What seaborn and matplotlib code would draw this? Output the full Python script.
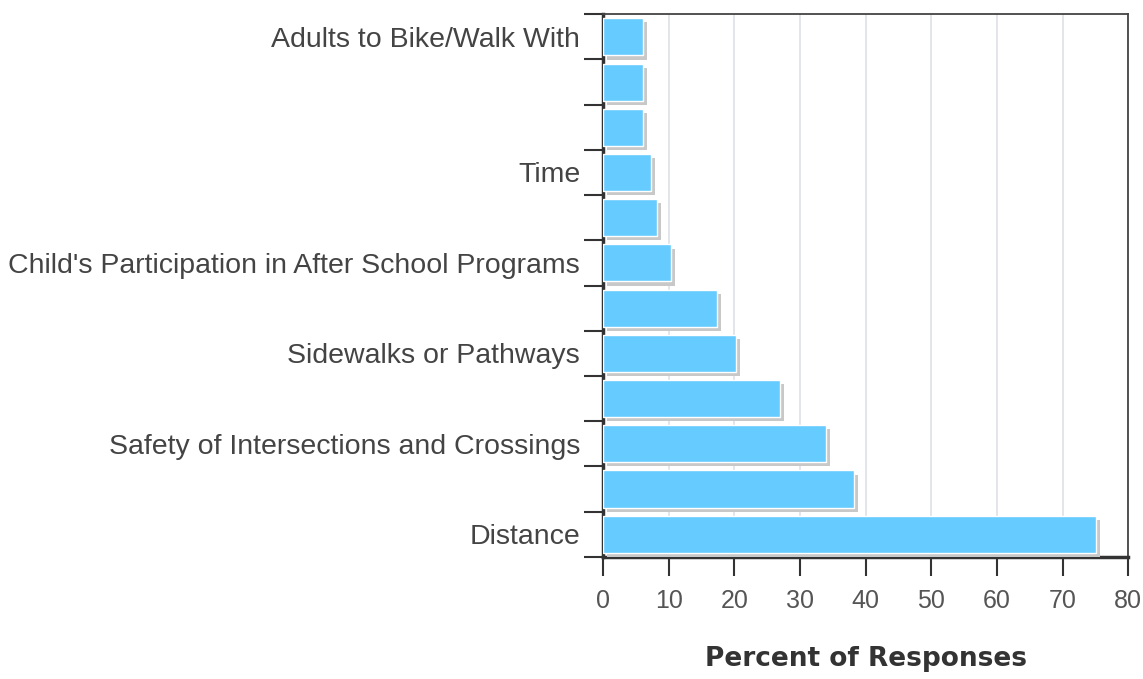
import numpy as np
import pandas as pd
import seaborn as sns
import matplotlib.pyplot as plt
import matplotlib.patheffects as pe
from matplotlib.ticker import FixedLocator

# categories from top to bottom; blank ones were not labelled in the source chart
labels = ['Adults to Bike/Walk With', '', '', 'Time', '',
          "Child's Participation in After School Programs", '',
          'Sidewalks or Pathways', '', 'Safety of Intersections and Crossings',
          '', 'Distance']
percent = [6.1, 6.1, 6.1, 7.3, 8.2, 10.3, 17.3, 20.2, 26.9, 34.0, 38.2, 75.1]
xticks = [0, 10, 20, 30, 40, 50, 60, 70, 80]

df = pd.DataFrame({'pos': np.arange(len(labels)), 'percent': percent})

sns.set_style('white')
plt.rcParams['font.family'] = ['Liberation Sans', 'DejaVu Sans']

fig = plt.figure(figsize=(11.43, 6.79), dpi=100)
ax = fig.add_axes([0.5276, 0.180, 0.4594, 0.799])

sns.barplot(data=df, x='percent', y='pos', orient='h', color='#66ccff',
            saturation=1, width=0.82, ax=ax, zorder=3)
for p in ax.patches:
    p.set_path_effects([pe.SimplePatchShadow(offset=(3, -3), shadow_rgbFace='#c8c8c8', alpha=1),
                        pe.Normal()])

ax.set_xlim(0, 80)
ax.set_ylim(len(labels) - 0.5, -0.5)
ax.set_xticks(xticks)
ax.set_xticklabels([str(t) for t in xticks], fontsize=18, color='#555555')
ax.xaxis.grid(True, color='#dde1e6', linewidth=1.2, zorder=0)

ax.set_yticks(df['pos'])
ax.set_yticklabels(labels, fontsize=20.5, color='#444444')
ax.tick_params(axis='y', which='major', left=True, length=0, pad=16.5)
ax.yaxis.set_minor_locator(FixedLocator(np.arange(len(labels) + 1) - 0.5))
ax.tick_params(axis='y', which='minor', left=True, length=14, width=1.5, color='#333333')
ax.tick_params(axis='x', which='major', bottom=True, length=14, width=1.5,
               color='#333333', pad=9)

ax.set_ylabel('')
ax.set_xlabel('Percent of Responses', fontsize=19, fontweight='bold',
              family='DejaVu Sans', color='#333333', labelpad=24)

for side in ['left', 'bottom']:
    ax.spines[side].set_linewidth(2.5)
    ax.spines[side].set_color('#333333')
for side in ['top', 'right']:
    ax.spines[side].set_linewidth(1.3)
    ax.spines[side].set_color('#444444')

plt.savefig('out.png', dpi=100)
